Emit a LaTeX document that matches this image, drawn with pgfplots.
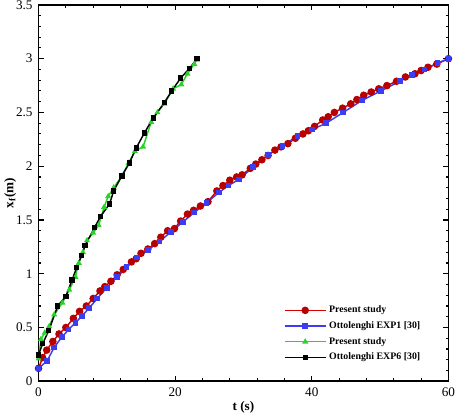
\documentclass[border=0pt]{standalone}
\usepackage{pgfplots}
\pgfplotsset{compat=1.18}
\usepackage{fontspec}
\setmainfont{Liberation Serif}
\definecolor{cred}{RGB}{215,0,0}
\definecolor{cblue}{RGB}{60,60,240}
\definecolor{cgreen}{RGB}{40,210,40}
\begin{document}
\begin{tikzpicture}
\begin{axis}[
  scale only axis, width=311.25pt, height=285.75pt,
  xmin=0, xmax=60, ymin=0, ymax=3.5,
  xtick={0,20,40,60}, ytick={0,0.5,1,1.5,2,2.5,3,3.5},
  minor x tick num=4, minor y tick num=4,
  tick align=inside, major tick length=4pt, minor tick length=2.2pt,
  tick style={black, line width=0.8pt},
  axis line style={line width=1.4pt},
  ticklabel style={font=\fontsize{10}{12}\selectfont},
  /pgf/number format/assume math mode=true,
  yticklabel style={xshift=-1pt},
  xticklabel style={yshift=-1pt},
  xlabel={\textbf{t (s)}}, ylabel={\textbf{x\textsubscript{f}(m)}},
  label style={font=\fontsize{10}{12}\selectfont},
  xlabel style={yshift=3pt},
  ylabel style={yshift=-7pt},
  legend style={at={(0.948,0.037)}, anchor=south east, draw=none, fill=none,
    font=\fontsize{7.5}{9}\selectfont\bfseries, row sep=1.2pt,
    legend cell align=left},
  legend image code/.code={
    \draw[mark repeat=2,mark phase=2] plot coordinates {(0cm,0cm) (0.55cm,0cm) (1.1cm,0cm)};},
  every axis plot/.append style={line width=1.1pt},
]
\addplot[cred, mark=*, mark size=2.3pt, mark options={fill=cred!85!black, draw=cred!85!black}] coordinates {
(0,0.12)(0.6,0.22)(1.2,0.29)(2.1,0.37)(3.0,0.44)(4.0,0.50)(5.1,0.585)(6.0,0.65)(7.0,0.70)(8.0,0.77)(9.0,0.84)(9.7,0.88)(10.6,0.93)(11.5,0.99)(12.4,1.04)(13.6,1.11)(14.3,1.14)(15.0,1.19)(16.0,1.23)(17.0,1.28)(17.9,1.34)(18.9,1.40)(19.9,1.42)(20.8,1.49)(21.8,1.555)(22.7,1.59)(23.7,1.63)(24.8,1.67)(26.1,1.77)(27.0,1.82)(28.0,1.87)(29.0,1.90)(29.8,1.92)(31.0,1.98)(31.8,2.02)(32.7,2.06)(33.6,2.10)(34.6,2.15)(35.5,2.18)(36.5,2.21)(37.6,2.26)(38.7,2.30)(39.5,2.33)(40.4,2.37)(41.6,2.43)(42.4,2.46)(43.3,2.50)(44.5,2.54)(45.7,2.58)(46.6,2.62)(47.6,2.66)(48.7,2.69)(49.8,2.72)(51.0,2.75)(52.4,2.79)(53.7,2.83)(55.1,2.86)(56.0,2.89)(57.0,2.92)(58.3,2.95)(60,3.0)};
\addlegendentry{Present study}
\addplot[cblue, mark=square*, mark size=1.6pt] coordinates {
(0,0.12)(1.25,0.19)(2.3,0.315)(3.4,0.41)(4.4,0.48)(5.4,0.545)(6.4,0.61)(7.4,0.68)(8.6,0.77)(10.0,0.87)(11.5,0.97)(12.9,1.06)(14.4,1.15)(16.0,1.22)(17.7,1.30)(19.4,1.39)(21.1,1.48)(22.8,1.57)(24.6,1.66)(26.4,1.755)(27.8,1.82)(29.3,1.876)(31.4,1.99)(33.6,2.105)(35.7,2.19)(37.9,2.28)(40.0,2.34)(42.1,2.40)(44.6,2.50)(47.3,2.61)(50.1,2.70)(52.9,2.79)(54.7,2.85)(56.5,2.90)(58.4,2.96)(60,3.0)};
\addlegendentry{Ottolenghi EXP1 [30]}
\addplot[cgreen, mark=triangle*, mark size=1.6pt] coordinates {
(0,0.21)(0.35,0.39)(0.9,0.45)(1.55,0.51)(2.3,0.62)(3.5,0.73)(4.5,0.85)(5.4,0.97)(5.9,1.10)(6.5,1.20)(7.1,1.31)(8.0,1.38)(8.8,1.45)(9.6,1.62)(10.2,1.72)(11,1.80)(12.2,1.91)(13.2,2.03)(14.1,2.14)(15.3,2.18)(16.5,2.41)(17.4,2.50)(18.4,2.58)(19.7,2.72)(20.9,2.76)(21.8,2.86)(22.8,2.95)(23.2,2.99)};
\addlegendentry{Present study}
\addplot[black, mark=square*, mark size=1.5pt] coordinates {
(0,0.245)(0.6,0.35)(1.5,0.47)(2.8,0.70)(4.0,0.79)(4.9,0.94)(5.6,1.06)(6.3,1.17)(6.8,1.26)(8.2,1.43)(9.05,1.53)(10.4,1.65)(11,1.77)(12.2,1.91)(13.3,2.03)(14.3,2.17)(15.5,2.31)(16.8,2.45)(18.4,2.59)(19.5,2.70)(20.8,2.82)(22.1,2.91)(23.2,3.0)};
\addlegendentry{Ottolenghi EXP6 [30]}
\end{axis}
\pgfresetboundingbox
\path ([shift={(-29.25pt,-25.5pt)}]current axis.south west) rectangle ([shift={(6.5pt,3.75pt)}]current axis.north east);
\end{tikzpicture}
\end{document}
